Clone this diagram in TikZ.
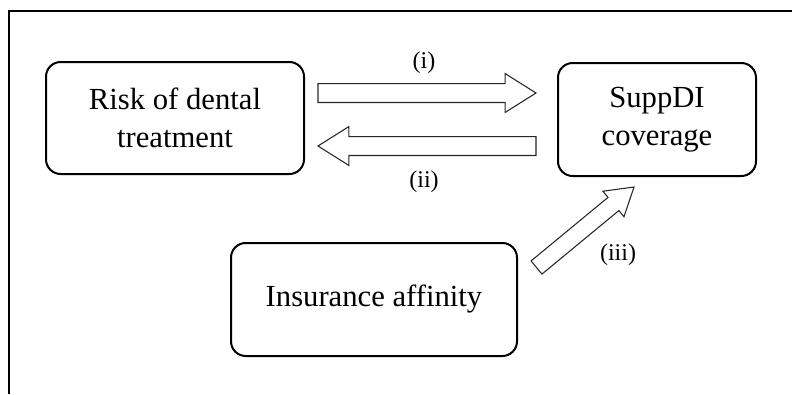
\documentclass[tikz,border=0pt]{standalone}
\usepackage{fontspec}
\setmainfont{Liberation Serif}
\usetikzlibrary{calc,positioning}

\begin{document}
\begin{tikzpicture}[x=0.75pt,y=-0.75pt,thick,
  box/.style={draw,rounded corners=11pt,line width=1.5pt,align=center,inner sep=0pt,
    font=\fontsize{23}{28.5}\selectfont},
  tag/.style={font=\fontsize{18}{20}\selectfont},
  block arrow/.style n args={3}{to path={
    let \p1=($(\tikztotarget)-(\tikztostart)$), \n1={atan2(\y1,\x1)} in
    ($(\tikztostart)+(\n1+90:#1)$)
    -- ($(\tikztotarget)+(\n1+180:#3)+(\n1+90:#1)$)
    -- ($(\tikztotarget)+(\n1+180:#3)+(\n1+90:#2)$)
    -- (\tikztotarget)
    -- ($(\tikztotarget)+(\n1+180:#3)+(\n1-90:#2)$)
    -- ($(\tikztotarget)+(\n1+180:#3)+(\n1-90:#1)$)
    -- ($(\tikztostart)+(\n1-90:#1)$)
    -- cycle}}]

  \useasboundingbox (0,0) rectangle (792,394);
  % frame
  \draw[line width=1.5pt] (9,394) -- (9,11) -- (792,11);

  \node[box,minimum width=193.5pt,minimum height=84pt] (risk) at (175,118) {Risk of dental\\treatment};
  \node[box,minimum width=148.5pt,minimum height=84.75pt] (supp) at (657,119.5) {SuppDI\\coverage};
  \node[box,minimum width=214.5pt,minimum height=84.75pt] (ins) at (374,299.5) {Insurance affinity};

  % arrow ends
  \coordinate (i start) at ($(risk.east)+(13,-25)$);
  \coordinate (i end) at ($(supp.west)+(-21,-26.5)$);
  \coordinate (ii start) at ($(supp.west)+(-21,26.5)$);
  \coordinate (ii end) at ($(risk.east)+(13,28)$);
  \coordinate (iii start) at ($(ins.east)+(18.5,-32)$);
  \coordinate (iii end) at ($(supp.south)+(-23,10)$);

  \draw[black!85] (i start) to[block arrow={7.1pt}{14.6pt}{23.2pt}] (i end);
  \draw[black!85] (ii start) to[block arrow={7.1pt}{14.6pt}{23.2pt}] (ii end);
  \draw[black!85] (iii start) to[block arrow={6.4pt}{12.4pt}{20pt}] (iii end);

  \node[tag] (lab i) at (424,63) {(i)};
  \node[tag] (lab ii) at (424,182) {(ii)};
  \node[tag] (lab iii) at (618,255) {(iii)};
\end{tikzpicture}
\end{document}
